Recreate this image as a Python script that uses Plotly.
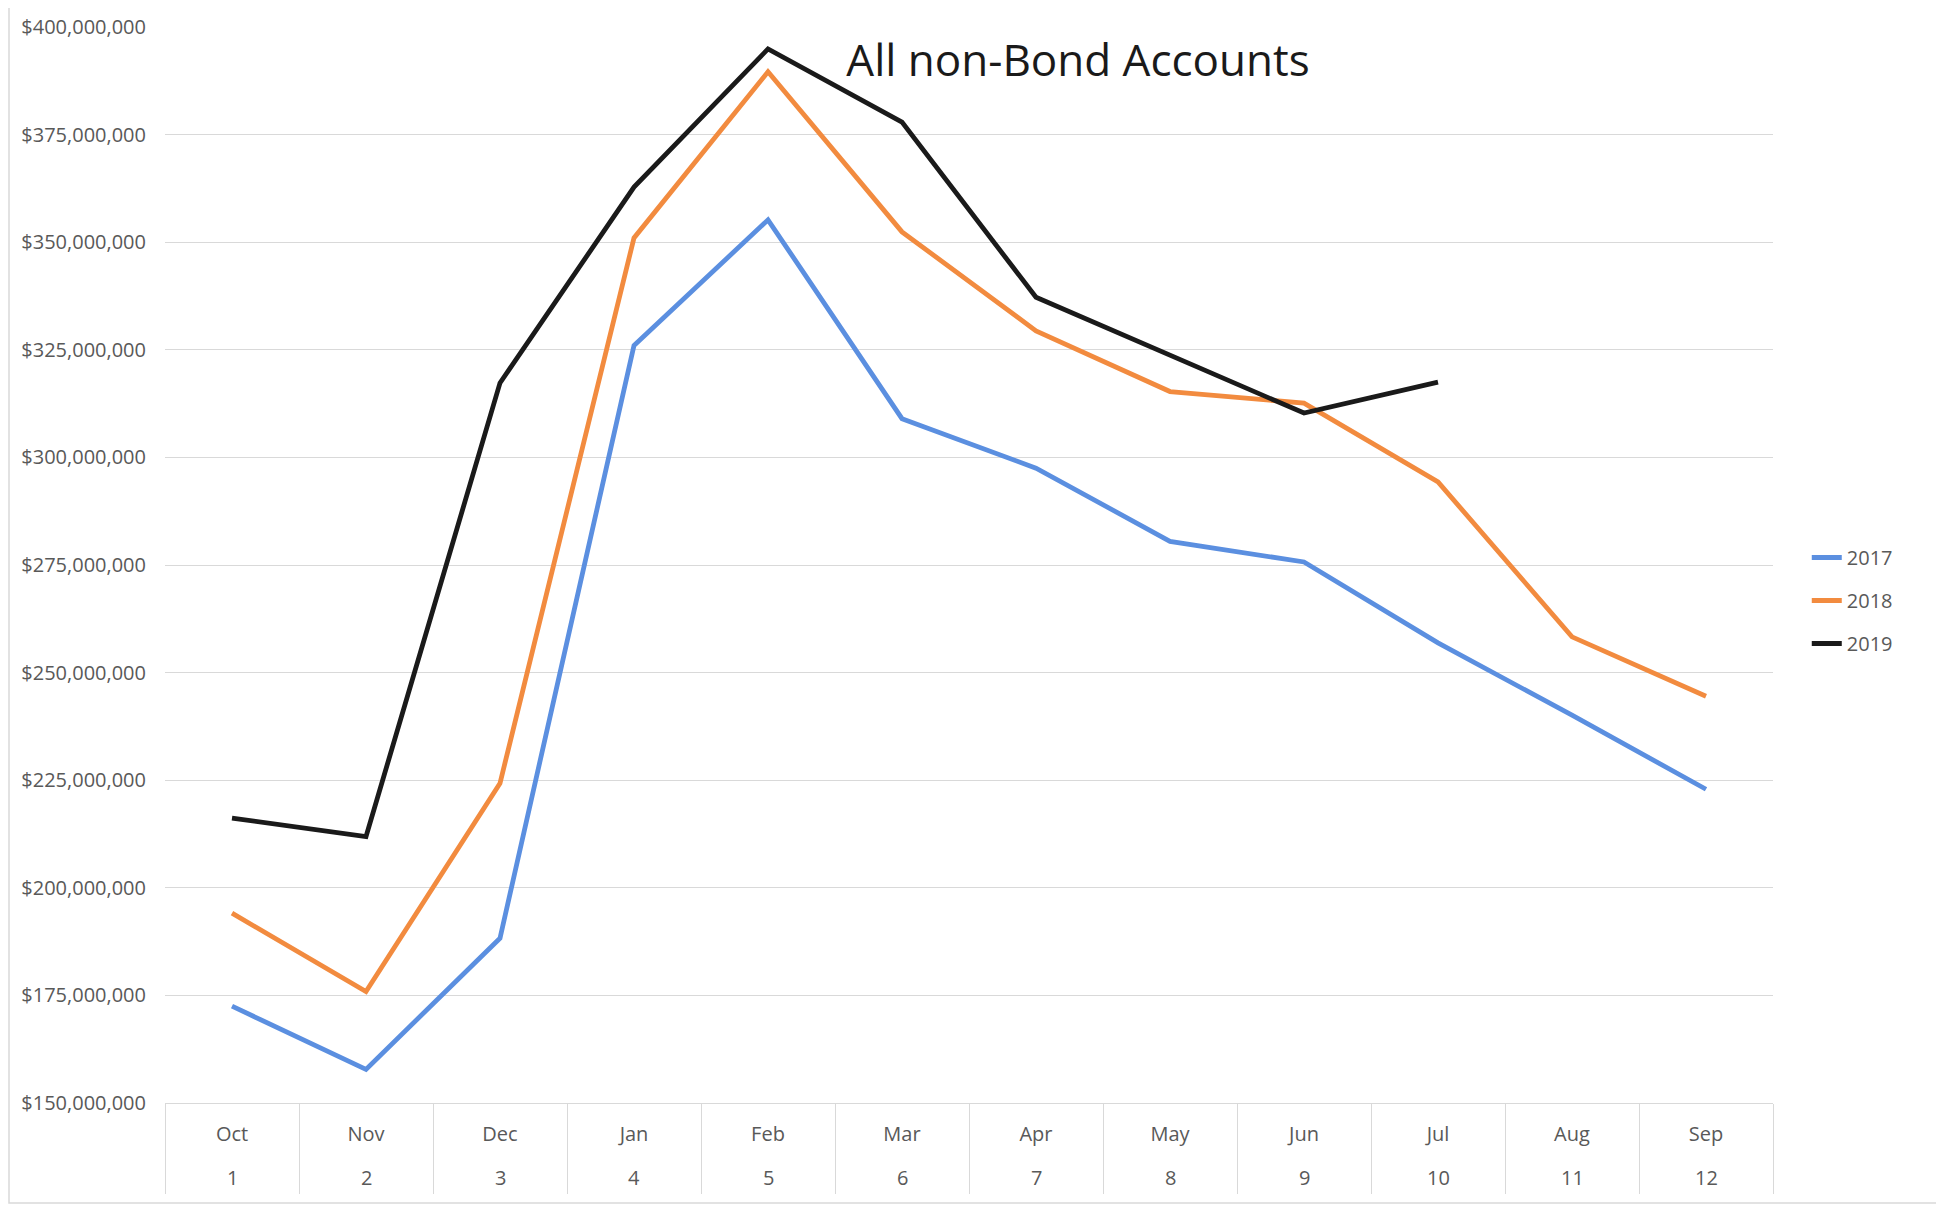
import plotly.graph_objects as go

months = ["Oct", "Nov", "Dec", "Jan", "Feb", "Mar", "Apr", "May", "Jun", "Jul", "Aug", "Sep"]
month_nums = ["1", "2", "3", "4", "5", "6", "7", "8", "9", "10", "11", "12"]

v2017 = [172.5e6, 157.8e6, 188.3e6, 326.0e6, 355.2e6, 309.0e6, 297.5e6, 280.5e6, 275.7e6, 256.9e6, 240.1e6, 222.9e6]
v2018 = [194.1e6, 175.9e6, 224.3e6, 351.0e6, 389.6e6, 352.4e6, 329.4e6, 315.3e6, 312.6e6, 294.3e6, 258.3e6, 244.5e6]
v2019 = [216.2e6, 211.9e6, 317.3e6, 362.8e6, 394.9e6, 377.9e6, 337.2e6, 323.7e6, 310.3e6, 317.5e6]

series_names = ["2017", "2018", "2019"]
series_colors = ["#5B8FE0", "#F28B3F", "#1A1A1A"]
series_values = [v2017, v2018, v2019]

title_text = "All non-Bond Accounts"
y_ticks = [150e6, 175e6, 200e6, 225e6, 250e6, 275e6, 300e6, 325e6, 350e6, 375e6, 400e6]

FONT = "Open Sans"
GRAY = "#595959"
LIGHT = "#D9D9D9"

# page has an 8px body margin; figure sized to fill the rest of the window
OFF = 8
W, H = 1944 - OFF, 1207 - OFF
ML, MR, MT, MB = 165 - OFF, 171, 27 - OFF, 104
PW, PH = W - ML - MR, H - MT - MB

fig = go.Figure()
for name, color, vals in zip(series_names, series_colors, series_values):
    n = len(vals)
    fig.add_trace(go.Scatter(
        x=months[:n],
        y=vals,
        mode="lines",
        name=name,
        legendgroup=name,
        line=dict(color=color, width=4.8),
    ))

# second row of category labels (month numbers) under the month names
annotations = [
    dict(x=m, xref="x", y=-74 / PH, yref="paper", text=n, showarrow=False,
         xanchor="center", yanchor="middle",
         font=dict(family=FONT, size=20, color=GRAY))
    for m, n in zip(months, month_nums)
]

fig.update_layout(
    width=W,
    height=H,
    paper_bgcolor="white",
    plot_bgcolor="white",
    margin=dict(l=ML, r=MR, t=MT, b=MB, autoexpand=False),
    font=dict(family=FONT, color=GRAY, size=20),
    title=dict(
        text=title_text,
        x=(1078 - OFF) / W, xref="container", xanchor="center",
        y=1 - (61 - OFF) / H, yref="container", yanchor="middle",
        font=dict(family=FONT, size=44, color="#1A1A1A"),
    ),
    legend=dict(
        x=1.021, xanchor="left", y=0.467, yanchor="middle",
        font=dict(family=FONT, size=20, color=GRAY),
        tracegroupgap=14,
        bgcolor="rgba(0,0,0,0)",
    ),
    annotations=annotations,
    shapes=[dict(
        type="rect", xref="paper", yref="paper",
        x0=-(ML - 1) / PW, x1=(1940 - OFF - ML) / PW,
        y0=-(1203 - 1103) / PH, y1=1 + 60 / PH,
        line=dict(color=LIGHT, width=1.5),
        layer="below",
    )],
)

fig.update_yaxes(
    range=[150e6, 400e6],
    tickvals=y_ticks,
    tickformat="$,.0f",
    showgrid=True,
    gridcolor=LIGHT,
    gridwidth=1.2,
    zeroline=False,
    showline=False,
    ticks="",
    ticklabelstandoff=18,
    automargin=False,
    tickfont=dict(family=FONT, size=20, color=GRAY),
)

fig.update_xaxes(
    type="category",
    categoryorder="array",
    categoryarray=months,
    range=[-0.5, len(months) - 0.5],
    tickvals=months,
    ticktext=months,
    tickson="boundaries",
    ticks="outside",
    ticklen=90,
    tickwidth=1.2,
    tickcolor=LIGHT,
    ticklabelstandoff=13,
    showgrid=False,
    showline=True,
    linecolor=LIGHT,
    linewidth=1.2,
    automargin=False,
    tickfont=dict(family=FONT, size=20, color=GRAY),
)

fig.write_html("out.html")
